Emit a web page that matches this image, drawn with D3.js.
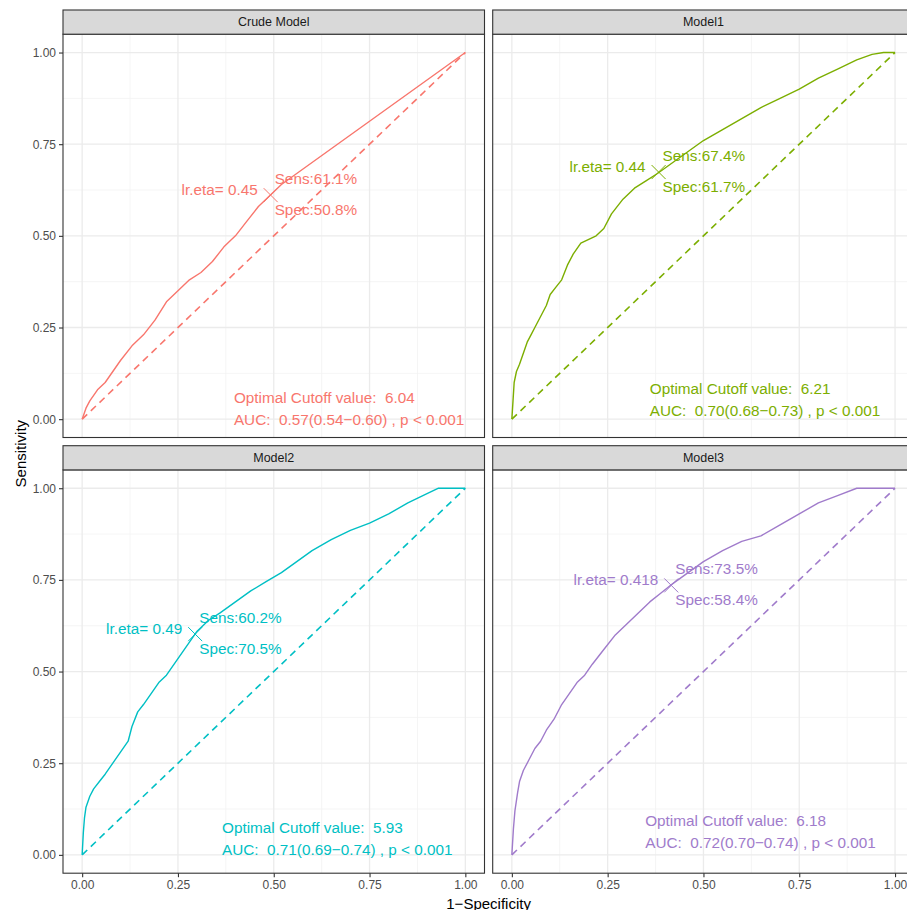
<!DOCTYPE html>
<html>
<head>
<meta charset="utf-8">
<script src="https://cdn.jsdelivr.net/npm/d3@7"></script>
<style>
  html, body { margin: 0; padding: 0; background: #ffffff; }
  svg { display: block; }
  text { font-family: "Liberation Sans", Arial, Helvetica, sans-serif; }
</style>
</head>
<body>
<svg id="chart" width="907" height="910"></svg>
<script>
// ---------------- DATA ----------------
const models = ["Crude Model", "Model1", "Model2", "Model3"];
const colors = ["#F8766D", "#7CAE00", "#00BFC4", "#A07BCB"];

// ROC curves (1-Specificity, Sensitivity)
const crudeFpr = [0, 0.01, 0.02, 0.04, 0.06, 0.08, 0.10, 0.13, 0.16, 0.19, 0.22, 0.25, 0.28, 0.31, 0.34, 0.37, 0.40, 0.43, 0.46, 0.49, 0.52, 0.56, 0.60, 0.64, 0.68, 0.72, 0.76, 0.80, 0.84, 0.88, 0.92, 0.96, 1.0];
const crudeTpr = [0, 0.03, 0.05, 0.08, 0.10, 0.13, 0.16, 0.20, 0.23, 0.27, 0.32, 0.35, 0.38, 0.40, 0.43, 0.47, 0.50, 0.54, 0.58, 0.61, 0.64, 0.67, 0.70, 0.73, 0.76, 0.79, 0.82, 0.85, 0.88, 0.91, 0.94, 0.97, 1.0];

const model1Fpr = [0, 0.003, 0.006, 0.012, 0.02, 0.03, 0.04, 0.05, 0.06, 0.075, 0.09, 0.10, 0.115, 0.13, 0.145, 0.16, 0.18, 0.22, 0.24, 0.26, 0.29, 0.32, 0.35, 0.38, 0.42, 0.46, 0.50, 0.55, 0.60, 0.65, 0.70, 0.75, 0.80, 0.85, 0.90, 0.94, 0.97, 1.0];
const model1Tpr = [0, 0.05, 0.10, 0.13, 0.15, 0.18, 0.21, 0.23, 0.25, 0.28, 0.31, 0.34, 0.36, 0.38, 0.42, 0.45, 0.48, 0.50, 0.52, 0.56, 0.60, 0.63, 0.65, 0.67, 0.70, 0.73, 0.76, 0.79, 0.82, 0.85, 0.875, 0.90, 0.93, 0.955, 0.98, 0.995, 1.0, 1.0];

const model2Fpr = [0, 0.003, 0.006, 0.01, 0.02, 0.03, 0.045, 0.06, 0.08, 0.10, 0.12, 0.13, 0.145, 0.16, 0.18, 0.20, 0.22, 0.24, 0.26, 0.28, 0.30, 0.33, 0.36, 0.40, 0.44, 0.48, 0.52, 0.56, 0.60, 0.65, 0.70, 0.75, 0.80, 0.85, 0.90, 0.93, 1.0];
const model2Tpr = [0, 0.06, 0.10, 0.13, 0.16, 0.18, 0.20, 0.22, 0.25, 0.28, 0.31, 0.35, 0.39, 0.41, 0.44, 0.47, 0.49, 0.52, 0.55, 0.58, 0.61, 0.64, 0.66, 0.69, 0.72, 0.745, 0.77, 0.80, 0.83, 0.86, 0.885, 0.905, 0.93, 0.96, 0.985, 1.0, 1.0];

const model3Fpr = [0, 0.004, 0.008, 0.015, 0.02, 0.03, 0.045, 0.06, 0.075, 0.09, 0.11, 0.13, 0.15, 0.17, 0.19, 0.21, 0.24, 0.27, 0.30, 0.33, 0.36, 0.39, 0.42, 0.46, 0.50, 0.55, 0.60, 0.65, 0.70, 0.75, 0.80, 0.85, 0.90, 1.0];
const model3Tpr = [0, 0.07, 0.12, 0.17, 0.20, 0.23, 0.26, 0.29, 0.31, 0.34, 0.37, 0.41, 0.44, 0.47, 0.49, 0.52, 0.56, 0.60, 0.63, 0.66, 0.69, 0.715, 0.74, 0.77, 0.80, 0.83, 0.855, 0.87, 0.90, 0.93, 0.96, 0.98, 1.0, 1.0];

const fprs = [crudeFpr, model1Fpr, model2Fpr, model3Fpr];
const tprs = [crudeTpr, model1Tpr, model2Tpr, model3Tpr];

// optimal cutoff points
const cutoffEta  = ["0.45", "0.44", "0.49", "0.418"];
const cutoffSens = [61.1, 67.4, 60.2, 73.5];
const cutoffSpec = [50.8, 61.7, 70.5, 58.4];
const cutoffValue = ["6.04", "6.21", "5.93", "6.18"];
const aucText = ["0.57(0.54\u22120.60)", "0.70(0.68\u22120.73)", "0.71(0.69\u22120.74)", "0.72(0.70\u22120.74)"];
const pText = ["p < 0.001", "p < 0.001", "p < 0.001", "p < 0.001"];

const tickValues = [0, 0.25, 0.5, 0.75, 1];
const tickLabels = ["0.00", "0.25", "0.50", "0.75", "1.00"];
const minorValues = [0.125, 0.375, 0.625, 0.875];

// ---------------- LAYOUT ----------------
const svg = d3.select("#chart");
const colX = [63, 492.7];
const panelW = 421.5;
const rowStripTop = [10, 445.7];
const stripH = 24.2;
const panelH = 403.3;

// annotation placement for AUC text (data units, left anchored)
const aucAnchorX = [0.396, 0.36, 0.365, 0.348];
const aucAnchorY = [0.058, 0.083, 0.076, 0.095];
const lineGapPx = 22;

const font = "'Liberation Sans', Arial, Helvetica, sans-serif";

models.forEach((name, i) => {
  const col = i % 2, row = Math.floor(i / 2);
  const x0 = colX[col];
  const st = rowStripTop[row];
  const py0 = st + stripH;
  const x = d3.scaleLinear().domain([-0.05, 1.05]).range([x0, x0 + panelW]);
  const y = d3.scaleLinear().domain([-0.05, 1.05]).range([py0 + panelH, py0]);
  const g = svg.append("g");
  const color = colors[i];

  g.append("rect").attr("x", x0).attr("y", py0).attr("width", panelW).attr("height", panelH)
    .attr("fill", "#ffffff");

  minorValues.forEach(v => {
    g.append("line").attr("x1", x(v)).attr("x2", x(v)).attr("y1", py0).attr("y2", py0 + panelH)
      .attr("stroke", "#F2F2F2").attr("stroke-width", 0.8);
    g.append("line").attr("y1", y(v)).attr("y2", y(v)).attr("x1", x0).attr("x2", x0 + panelW)
      .attr("stroke", "#F2F2F2").attr("stroke-width", 0.8);
  });
  tickValues.forEach(v => {
    g.append("line").attr("x1", x(v)).attr("x2", x(v)).attr("y1", py0).attr("y2", py0 + panelH)
      .attr("stroke", "#EBEBEB").attr("stroke-width", 1.3);
    g.append("line").attr("y1", y(v)).attr("y2", y(v)).attr("x1", x0).attr("x2", x0 + panelW)
      .attr("stroke", "#EBEBEB").attr("stroke-width", 1.3);
  });

  g.append("line").attr("x1", x(0)).attr("y1", y(0)).attr("x2", x(1)).attr("y2", y(1))
    .attr("stroke", color).attr("stroke-width", 1.6).attr("stroke-dasharray", "7,5");

  const pts = fprs[i].map((f, k) => [f, tprs[i][k]]);
  g.append("path").datum(pts)
    .attr("d", d3.line().x(d => x(d[0])).y(d => y(d[1])))
    .attr("fill", "none").attr("stroke", color).attr("stroke-width", 1.4)
    .attr("stroke-linejoin", "round");

  const cx = x(1 - cutoffSpec[i] / 100), cy = y(cutoffSens[i] / 100);
  const s = 7;
  g.append("path")
    .attr("d", `M${cx - s},${cy - s}L${cx + s},${cy + s}M${cx - s},${cy + s}L${cx + s},${cy - s}`)
    .attr("stroke", color).attr("stroke-width", 1);

  const fs = 15.3;
  g.append("text").attr("x", cx - 13).attr("y", cy - 6).attr("text-anchor", "end")
    .attr("dominant-baseline", "central").attr("font-size", fs).attr("fill", color)
    .text("lr.eta= " + cutoffEta[i]);
  g.append("text").attr("x", cx + 4).attr("y", cy - 17).attr("text-anchor", "start")
    .attr("dominant-baseline", "central").attr("font-size", fs).attr("fill", color)
    .text("Sens:" + cutoffSens[i].toFixed(1) + "%");
  g.append("text").attr("x", cx + 4).attr("y", cy + 14).attr("text-anchor", "start")
    .attr("dominant-baseline", "central").attr("font-size", fs).attr("fill", color)
    .text("Spec:" + cutoffSpec[i].toFixed(1) + "%");

  const ax = x(aucAnchorX[i]), ay = y(aucAnchorY[i]);
  g.append("text").attr("x", ax).attr("y", ay).attr("dominant-baseline", "central")
    .attr("font-size", fs).attr("fill", color)
    .style("white-space", "pre")
    .text("Optimal Cutoff value:  " + cutoffValue[i]);
  g.append("text").attr("x", ax).attr("y", ay + lineGapPx).attr("dominant-baseline", "central")
    .attr("font-size", fs).attr("fill", color)
    .style("white-space", "pre")
    .text("AUC:  " + aucText[i] + " , " + pText[i]);

  g.append("rect").attr("x", x0).attr("y", py0).attr("width", panelW).attr("height", panelH)
    .attr("fill", "none").attr("stroke", "#333333").attr("stroke-width", 1.1);

  g.append("rect").attr("x", x0).attr("y", st).attr("width", panelW).attr("height", stripH)
    .attr("fill", "#D9D9D9").attr("stroke", "#333333").attr("stroke-width", 1.1);
  g.append("text").attr("x", x0 + panelW / 2).attr("y", st + stripH / 2)
    .attr("text-anchor", "middle").attr("dominant-baseline", "central")
    .attr("font-size", 12.5).attr("fill", "#1A1A1A").text(name);

  if (col === 0) {
    const ay2 = d3.axisLeft(y).tickValues(tickValues).tickFormat((d, k) => tickLabels[k]).tickSize(4).tickPadding(3);
    const ga = g.append("g").attr("transform", `translate(${x0},0)`).call(ay2);
    ga.select(".domain").remove();
    ga.selectAll(".tick line").attr("stroke", "#333333").attr("stroke-width", 1.1);
    ga.selectAll(".tick text").attr("fill", "#4D4D4D").attr("font-size", 12).attr("font-family", font);
  }
  if (row === 1) {
    const ax2 = d3.axisBottom(x).tickValues(tickValues).tickFormat((d, k) => tickLabels[k]).tickSize(4).tickPadding(3);
    const ga = g.append("g").attr("transform", `translate(0,${py0 + panelH})`).call(ax2);
    ga.select(".domain").remove();
    ga.selectAll(".tick line").attr("stroke", "#333333").attr("stroke-width", 1.1);
    ga.selectAll(".tick text").attr("fill", "#4D4D4D").attr("font-size", 12).attr("font-family", font);
  }
});

svg.append("text").attr("x", (colX[0] + colX[1] + panelW) / 2).attr("y", 903)
  .attr("text-anchor", "middle").attr("dominant-baseline", "central")
  .attr("font-size", 15).attr("fill", "#000000").text("1\u2212Specificity");
svg.append("text").attr("transform", `translate(20,${(rowStripTop[0] + stripH + rowStripTop[1] + stripH + panelH) / 2}) rotate(-90)`)
  .attr("text-anchor", "middle").attr("dominant-baseline", "central")
  .attr("font-size", 15).attr("fill", "#000000").text("Sensitivity");
</script>
</body>
</html>
